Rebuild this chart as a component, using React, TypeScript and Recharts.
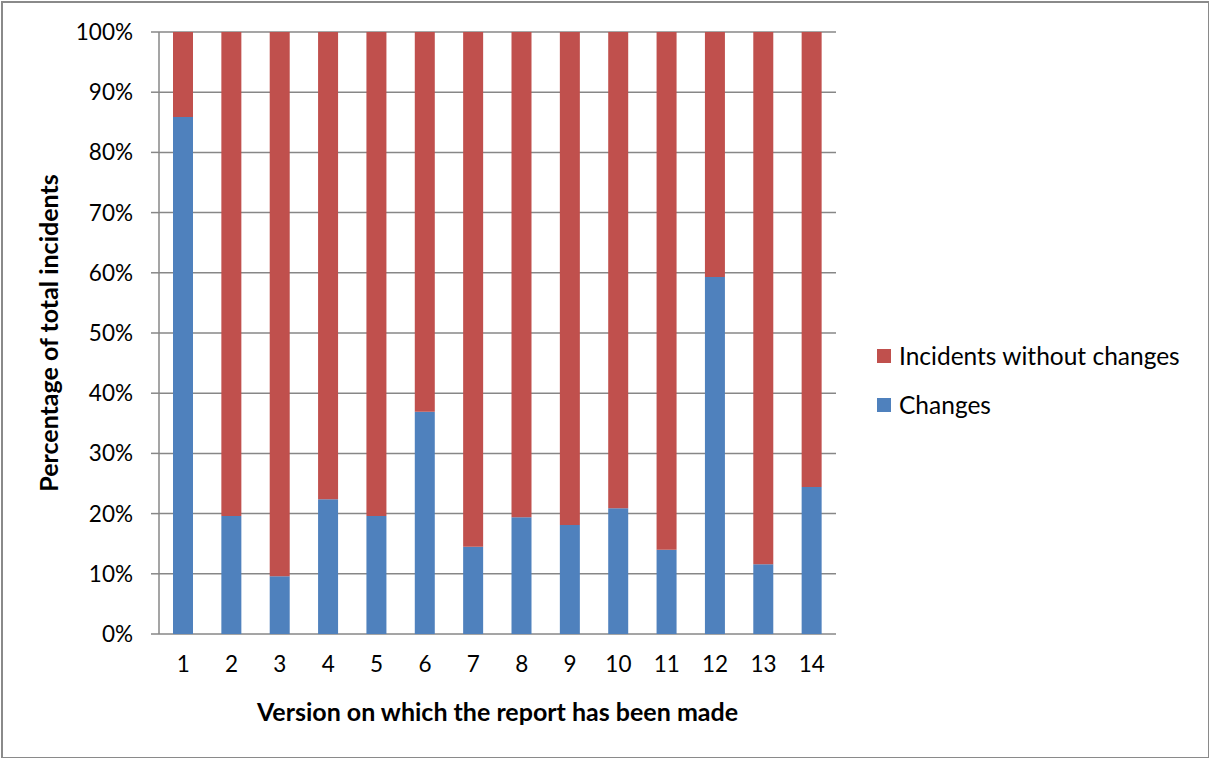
import React from "react"
import { BarChart, Bar, XAxis, YAxis, CartesianGrid } from "recharts"

const versions = ["1", "2", "3", "4", "5", "6", "7", "8", "9", "10", "11", "12", "13", "14"]
const changes = [85.9, 19.6, 9.6, 22.4, 19.6, 36.9, 14.5, 19.4, 18.1, 20.9, 14.0, 59.3, 11.6, 24.4]
const withoutChanges = [14.1, 80.4, 90.4, 77.6, 80.4, 63.1, 85.5, 80.6, 81.9, 79.1, 86.0, 40.7, 88.4, 75.6]
const yTicks = [0, 10, 20, 30, 40, 50, 60, 70, 80, 90, 100]
const bandEdges = [0, 1, 2, 3, 4, 5, 6, 7, 8, 9, 10, 11, 12, 13, 14]

const data = versions.map((v, i) => ({
  version: v,
  changes: changes[i],
  without: withoutChanges[i]
}))

const FONT = "Lato, 'Open Sans', sans-serif"
const BLUE = "#4F81BD"
const RED = "#C0504D"
const GRID = "#878787"

const legendItems = [
  { label: "Incidents without changes", color: RED },
  { label: "Changes", color: BLUE }
]

export default function App() {
  return (
    <div style={{ position: "absolute", left: 0, top: 0, width: 1209, height: 758, background: "#fff" }}>
      <div
        style={{
          position: "absolute",
          left: 1,
          top: 1,
          width: 1205,
          height: 754,
          border: "2px solid #8a8a8a"
        }}
      />
      <BarChart
        width={1209}
        height={758}
        data={data}
        margin={{ top: 32, right: 373, bottom: 24, left: 0 }}
        barSize={20}
      >
        <CartesianGrid horizontal vertical={false} stroke={GRID} strokeWidth={1.5} />
        <XAxis
          xAxisId="edges"
          type="number"
          domain={[0, 14]}
          ticks={bandEdges}
          height={0}
          axisLine={{ stroke: GRID, strokeWidth: 1.5 }}
          tickLine={{ stroke: GRID, strokeWidth: 1.5 }}
          tickSize={8}
          tickFormatter={() => ""}
        />
        <XAxis
          xAxisId="cat"
          dataKey="version"
          height={100}
          axisLine={false}
          tickLine={false}
          tickSize={0}
          tickMargin={22}
          tick={{ fill: "#000", fontSize: 22.5, fontFamily: FONT }}
          label={{
            content: (p: any) => {
              const vb = p.viewBox
              return (
                <text
                  x={vb.x + vb.width / 2}
                  y={vb.y + 87}
                  textAnchor="middle"
                  fontFamily={FONT}
                  fontWeight="bold"
                  fontSize={25}
                  fill="#000"
                >
                  Version on which the report has been made
                </text>
              )
            }
          }}
        />
        <YAxis
          width={159}
          domain={[0, 100]}
          ticks={yTicks}
          tickFormatter={(v: number) => `${v}%`}
          axisLine={{ stroke: GRID, strokeWidth: 1.5 }}
          tickLine={{ stroke: GRID, strokeWidth: 1.5 }}
          tickSize={8}
          tickMargin={18}
          tick={{ fill: "#000", fontSize: 22.5, fontFamily: FONT }}
          label={{
            content: (p: any) => {
              const vb = p.viewBox
              const cx = vb.x + 58
              const cy = vb.y + vb.height / 2
              return (
                <text
                  x={cx}
                  y={cy}
                  transform={`rotate(-90 ${cx} ${cy})`}
                  textAnchor="middle"
                  fontFamily={FONT}
                  fontWeight="bold"
                  fontSize={25}
                  fill="#000"
                >
                  Percentage of total incidents
                </text>
              )
            }
          }}
        />
        <Bar xAxisId="cat" dataKey="changes" name="Changes" stackId="a" fill={BLUE} isAnimationActive={false} />
        <Bar xAxisId="cat" dataKey="without" name="Incidents without changes" stackId="a" fill={RED} isAnimationActive={false} />
      </BarChart>
      <div style={{ position: "absolute", left: 877, top: 331, fontFamily: FONT, fontSize: 24.5, color: "#000" }}>
        {legendItems.map((it) => (
          <div key={it.label} style={{ display: "flex", alignItems: "center", height: 49 }}>
            <span style={{ width: 14, height: 14, background: it.color, marginRight: 8, display: "inline-block" }} />
            <span>{it.label}</span>
          </div>
        ))}
      </div>
    </div>
  )
}
